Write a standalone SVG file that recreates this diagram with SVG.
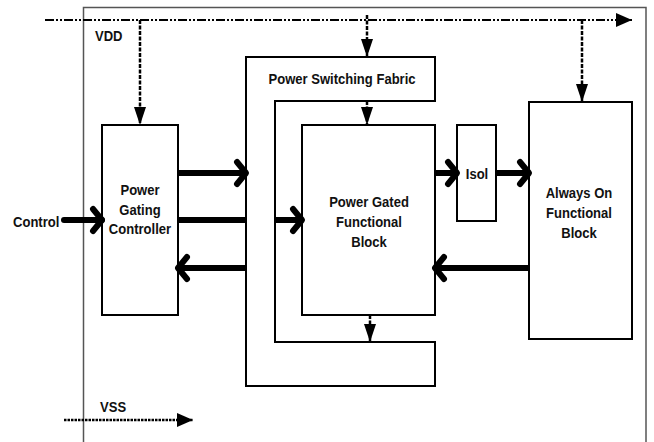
<svg xmlns="http://www.w3.org/2000/svg" width="654" height="442" viewBox="0 0 654 442">
<style>
  .box { fill: #fff; stroke: #000; stroke-width: 2; }
  .frame { fill: none; stroke: #555; stroke-width: 1.5; }
  .lbl { font-family: "Liberation Sans", Arial, sans-serif; font-weight: bold; font-size: 15px; fill: #111; text-anchor: middle; }
  .lbl-start { font-family: "Liberation Sans", Arial, sans-serif; font-weight: bold; font-size: 15px; fill: #111; }
  .thick { stroke: #000; stroke-width: 6; fill: none; }
  .vdd { stroke: #000; stroke-width: 2.2; fill: none; stroke-dasharray: 9 2 2 2 2 2; }
  .drop { stroke: #000; stroke-width: 2.5; fill: none; stroke-dasharray: 4 1.5; }
  .vss { stroke: #000; stroke-width: 2.5; fill: none; stroke-dasharray: 2.5 1; }
</style>
<defs>
  <marker id="chev" markerUnits="userSpaceOnUse" viewBox="-14 -14 18 28" refX="0" refY="0" markerWidth="18" markerHeight="28" orient="auto" overflow="visible">
    <path d="M-9,-11 L0,0 L-9,11" fill="none" stroke="#000" stroke-width="6" stroke-linecap="round" stroke-linejoin="round"/>
  </marker>
  <marker id="tri" markerUnits="userSpaceOnUse" viewBox="-18 -6 18 12" refX="0" refY="0" markerWidth="18" markerHeight="12" orient="auto" overflow="visible">
    <path d="M-18,-6 L0,0 L-18,6 Z" fill="#000"/>
  </marker>
  <marker id="triBig" markerUnits="userSpaceOnUse" viewBox="-16 -8 16 16" refX="0" refY="0" markerWidth="16" markerHeight="16" orient="auto" overflow="visible">
    <path d="M-16,-7 L0,0 L-16,7 Z" fill="#000"/>
  </marker>
</defs>
<rect width="654" height="442" fill="#fff"/>

<g id="frame">
  <path class="frame" d="M83.5,442 V7.5 H646 V442"/>
</g>

<g id="power-switching-fabric">
  <path class="box" d="M246,57 H435 V101 H275 V342 H435 V386 H246 Z"/>
  <text class="lbl" transform="translate(342,84) scale(0.87,1)">Power Switching Fabric</text>
</g>

<g id="power-gating-controller">
  <rect class="box" x="102" y="125" width="76" height="190"/>
  <text class="lbl" transform="translate(140,195) scale(0.87,1)">Power</text>
  <text class="lbl" transform="translate(140,214.5) scale(0.87,1)">Gating</text>
  <text class="lbl" transform="translate(140,234) scale(0.87,1)">Controller</text>
</g>

<g id="power-gated-block">
  <rect class="box" x="302" y="125" width="133" height="190"/>
  <text class="lbl" transform="translate(369,207) scale(0.87,1)">Power Gated</text>
  <text class="lbl" transform="translate(369,227) scale(0.87,1)">Functional</text>
  <text class="lbl" transform="translate(369,247) scale(0.87,1)">Block</text>
</g>

<g id="isol">
  <rect class="box" x="457" y="125" width="39" height="96"/>
  <text class="lbl" transform="translate(477,179) scale(0.87,1)">Isol</text>
</g>

<g id="always-on-block">
  <rect class="box" x="529" y="102" width="103" height="237"/>
  <text class="lbl" transform="translate(579,198) scale(0.87,1)">Always On</text>
  <text class="lbl" transform="translate(579,218) scale(0.87,1)">Functional</text>
  <text class="lbl" transform="translate(579,238) scale(0.87,1)">Block</text>
</g>

<g id="labels">
  <text class="lbl-start" transform="translate(95,41) scale(0.87,1)">VDD</text>
  <text class="lbl-start" transform="translate(100,412) scale(0.87,1)">VSS</text>
  <text class="lbl-start" transform="translate(13,227) scale(0.87,1)">Control</text>
</g>

<g id="connectors">
  <!-- VDD rail -->
  <path class="vdd" d="M45,20 H632" marker-end="url(#triBig)"/>
  <!-- VDD drops -->
  <path class="drop" d="M140,20 V125" marker-end="url(#tri)"/>
  <path class="drop" d="M367,15 V57" marker-end="url(#tri)"/>
  <path class="drop" d="M582,20 V102" marker-end="url(#tri)"/>
  <!-- fabric to gated block -->
  <path class="drop" d="M367,101 V125" marker-end="url(#tri)"/>
  <path class="drop" d="M370,315 V342" marker-end="url(#tri)"/>
  <!-- VSS rail -->
  <path class="vss" d="M64,420 H193" marker-end="url(#triBig)"/>
  <!-- thick signal arrows -->
  <path class="thick" d="M64,220 H102" marker-end="url(#chev)" stroke-linecap="round"/>
  <path class="thick" d="M178,173 H246" marker-end="url(#chev)"/>
  <path class="thick" d="M178,220 H246"/>
  <path class="thick" d="M275,220 H302" marker-end="url(#chev)"/>
  <path class="thick" d="M246,268 H178" marker-end="url(#chev)"/>
  <path class="thick" d="M435,173 H457" marker-end="url(#chev)"/>
  <path class="thick" d="M496,173 H529" marker-end="url(#chev)"/>
  <path class="thick" d="M529,268 H435" marker-end="url(#chev)"/>
</g>
</svg>
